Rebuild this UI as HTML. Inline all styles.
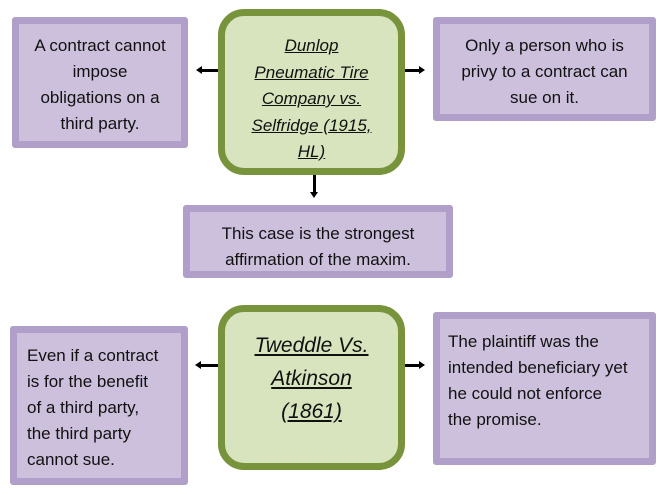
<!DOCTYPE html>
<html><head><style>
body{margin:0;width:666px;height:496px;background:#fff;position:relative;font-family:"Liberation Sans",sans-serif;color:#111;overflow:hidden}
.b{position:absolute;box-sizing:border-box;background:#ccc0dc;border:7px solid #b09fc8;border-radius:3px;font-size:17px;line-height:26px;text-align:center;white-space:nowrap}
.g{position:absolute;box-sizing:border-box;background:#d7e4bd;border:7px solid #77933c;border-radius:26px;text-align:center;font-style:italic;text-decoration:underline;white-space:nowrap}
.h{position:absolute;height:3px;background:#000}
.v{position:absolute;width:3px;background:#000}
</style></head><body>
<div class="b" style="left:12px;top:17px;width:176px;height:131px;padding-top:9px">A contract cannot<br>impose<br>obligations on a<br>third party.</div>
<div class="g" style="left:218px;top:9px;width:187px;height:166px;font-size:17px;line-height:26.5px;padding-top:17px">Dunlop<br>Pneumatic Tire<br>Company vs.<br>Selfridge (1915,<br>HL)</div>
<div class="b" style="left:433px;top:17px;width:223px;height:104px;padding-top:9px">Only a person who is<br>privy to a contract can<br>sue on it.</div>
<div class="b" style="left:183px;top:205px;width:270px;height:73px;padding-top:9px">This case is the strongest<br>affirmation of the maxim.</div>
<div class="h" style="left:201px;top:69px;width:17px"></div><div style="position:absolute;left:196px;top:66px;border:4.5px solid transparent;border-right:6px solid #000;border-left:0"></div>
<div class="h" style="left:405px;top:69px;width:15px"></div><div style="position:absolute;left:419px;top:66px;border:4.5px solid transparent;border-left:6px solid #000;border-right:0"></div>
<div class="v" style="left:313px;top:175px;height:18px"></div><div style="position:absolute;left:310px;top:192px;border:4.5px solid transparent;border-top:6px solid #000;border-bottom:0"></div>
<div class="b" style="left:10px;top:326px;width:178px;height:159px;padding:10px 0 0 10px;text-align:left">Even if a contract<br>is for the benefit<br>of a third party,<br>the third party<br>cannot sue.</div>
<div class="g" style="left:218px;top:305px;width:187px;height:165px;font-size:21px;line-height:33px;padding-top:17px">Tweddle Vs.<br>Atkinson<br>(1861)</div>
<div class="b" style="left:433px;top:312px;width:223px;height:153px;padding:10px 0 0 8px;text-align:left">The plaintiff was the<br>intended beneficiary yet<br>he could not enforce<br>the promise.</div>
<div class="h" style="left:200px;top:364px;width:18px"></div><div style="position:absolute;left:195px;top:361px;border:4.5px solid transparent;border-right:6px solid #000;border-left:0"></div>
<div class="h" style="left:405px;top:364px;width:15px"></div><div style="position:absolute;left:419px;top:361px;border:4.5px solid transparent;border-left:6px solid #000;border-right:0"></div>
</body></html>
